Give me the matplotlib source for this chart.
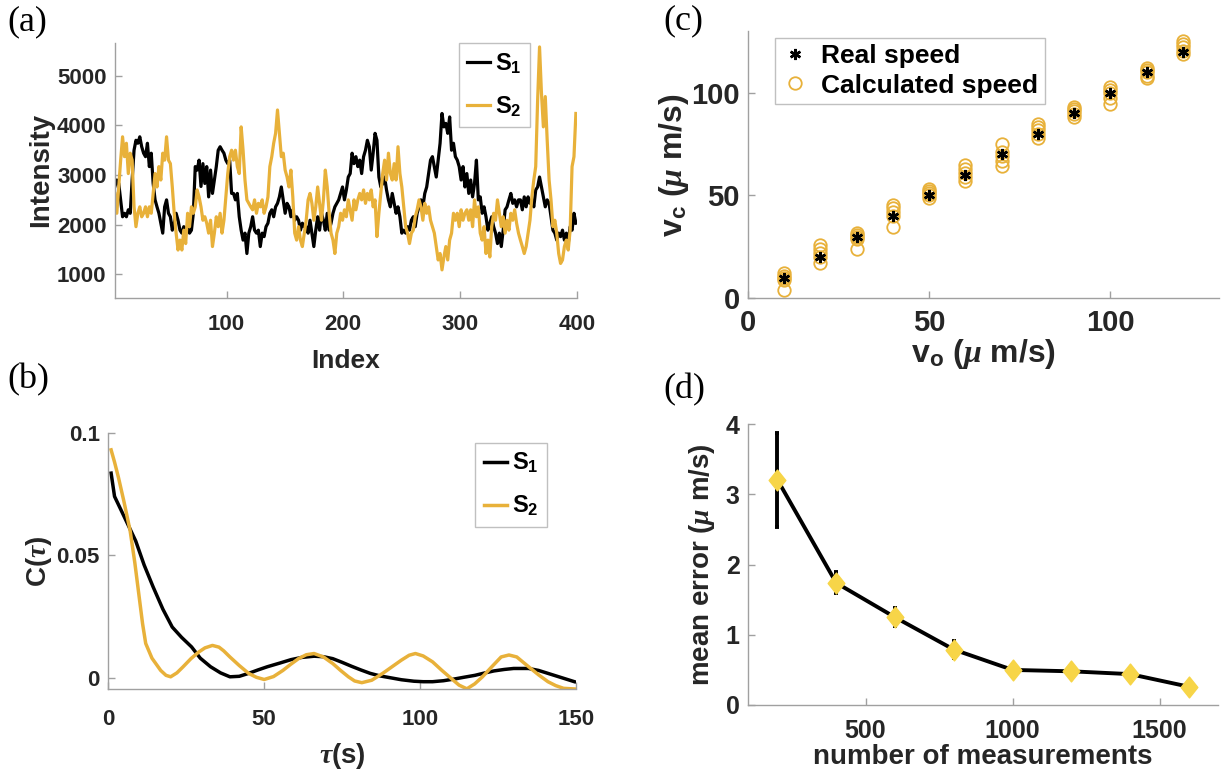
import numpy as np
import matplotlib.pyplot as plt
from matplotlib.path import Path

plt.rcParams['font.family'] = ['Liberation Sans', 'DejaVu Sans']
plt.rcParams['font.weight'] = 'bold'
plt.rcParams['axes.labelweight'] = 'bold'
plt.rcParams['mathtext.fontset'] = 'custom'
plt.rcParams['mathtext.rm'] = 'Liberation Sans:bold'
plt.rcParams['mathtext.bf'] = 'Liberation Sans:bold'
plt.rcParams['mathtext.it'] = 'Liberation Serif:italic'

GOLD = '#E8B13A'
YELLOW = '#F7D548'
GRAY = '#A0A0A0'
TXT = '#262626'

# (a) intensity traces
s1 = [2770, 2900, 2830, 2500, 2160, 2230, 2160, 2300, 2230, 2900, 3500, 3700, 3640, 3770, 3570, 3440,
      3370, 3640, 3170, 3440, 2830, 2500, 2360, 2230, 2030, 1830, 2360, 2500, 2230, 2160, 1890, 2030,
      2230, 2090, 1890, 1830, 1960, 1890, 1960, 1830, 1890, 2230, 3170, 3100, 3300, 2770, 3230, 2830,
      3170, 2560, 3100, 2630, 2900, 3170, 3500, 3570, 3500, 3440, 3300, 3230, 3300, 2630, 2630, 2500,
      2630, 2160, 1890, 1690, 1830, 1420, 1830, 1960, 2160, 1890, 1830, 1890, 1560, 1830, 1760, 1960,
      2030, 2230, 2300, 2160, 2360, 2430, 2560, 2760, 2500, 2230, 2430, 2360, 2160, 2300, 2090, 2160,
      2090, 1890, 2030, 1960, 1960, 1830, 2090, 1830, 1560, 1890, 2160, 1890, 2230, 2090, 1890, 2230,
      1890, 2030, 2230, 2360, 2430, 2500, 2630, 2760, 2500, 2700, 2960, 3030, 3440, 3230, 3370, 3170,
      3300, 3030, 3370, 3500, 3700, 3570, 3100, 3440, 3840, 3700, 2960, 2760, 2830, 2960, 2700, 2500,
      2360, 2630, 2430, 2230, 2360, 2160, 1830, 1890, 1830, 1960, 1890, 2090, 2160, 1960, 2230, 2360,
      2500, 2360, 2630, 2760, 3030, 3300, 3370, 3170, 2960, 3300, 3640, 4240, 3970, 4040, 3840, 4170,
      3500, 3640, 3370, 3300, 3170, 2900, 3170, 2760, 3030, 2630, 2900, 2560, 2830, 3300, 2500, 2560,
      2230, 2360, 2160, 1890, 2030, 2160, 1960, 1830, 1620, 1830, 1560, 1890, 2300, 2360, 2500, 2630,
      2430, 2500, 2360, 2500, 2500, 2300, 2560, 2360, 2560, 2430, 2500, 2360, 2700, 2760, 2960, 2760,
      2560, 2360, 2500, 2430, 2160, 1890, 1830, 1690, 1830, 1760, 1890, 1690, 1830, 1620, 1960, 1890,
      2230, 2030]
s2 = [2630, 2230, 2760, 3300, 3770, 3370, 3640, 3030, 3440, 3300, 2360, 1960, 2230, 2360, 2160, 2230,
      2360, 2160, 2360, 2230, 2630, 3030, 2760, 3170, 2900, 3440, 3300, 3770, 3300, 3230, 2760, 2230,
      1830, 1490, 1690, 1490, 1890, 1620, 2230, 1960, 2360, 2230, 2360, 2700, 2560, 2360, 2090, 2160,
      2030, 1830, 2090, 1560, 1830, 2160, 1960, 2230, 1830, 2090, 2560, 3030, 3370, 3500, 3300, 3500,
      3170, 3030, 3970, 3500, 2900, 2500, 2430, 2360, 2300, 2500, 2230, 2430, 2360, 2500, 2230, 2360,
      2560, 3170, 3370, 3640, 3840, 4310, 3840, 3370, 3440, 3100, 2960, 2760, 3100, 2560, 1830, 1690,
      1960, 1690, 1560, 1830, 2090, 2500, 2630, 2430, 2090, 2360, 2760, 2430, 2090, 2500, 3100, 2760,
      2230, 1830, 1690, 1420, 1830, 1960, 2230, 2090, 2300, 2160, 2500, 2300, 2090, 2500, 2300, 2500,
      2630, 2500, 2700, 2430, 2630, 2500, 2700, 2360, 2500, 1760, 2230, 2630, 3030, 3300, 2900, 3440,
      3030, 2900, 3230, 2900, 3570, 3030, 2760, 2360, 1960, 1830, 1620, 1830, 1890, 2160, 2300, 2500,
      2360, 2090, 2430, 2230, 2360, 2090, 1960, 1830, 1560, 1290, 1420, 1090, 1350, 1560, 1290, 1690,
      1830, 2230, 2090, 2230, 1960, 2300, 2090, 2230, 2300, 2090, 2300, 1960, 2500, 2160, 2360, 1830,
      1690, 1960, 1420, 1690, 1350, 1960, 2230, 2090, 2500, 2230, 1960, 2160, 1830, 2090, 1890, 2230,
      2090, 2300, 2030, 1830, 1690, 1560, 1420, 1560, 1830, 2090, 2560, 2900, 3170, 4510, 5580, 4650,
      3970, 4580, 3700, 2900, 2500, 1960, 2090, 1830, 1420, 1220, 1290, 1560, 1690, 1490, 1890, 3170,
      3370, 4240]
idx1 = np.linspace(4.3, 399.3, len(s1))
idx2 = np.linspace(4.3, 399.3, len(s2))

# (b) correlation functions
tau1 = [0.9, 2, 5, 8.8, 11.5, 14.4, 17.5, 20.5, 23.5, 26.7, 29.5, 32.8, 36, 39, 42, 45, 48, 51, 55,
        58.6, 62, 66, 69, 72, 75, 78, 81, 84, 87, 90.5, 94, 98, 101, 104, 107.5, 111, 114, 117.6,
        120.5, 123.7, 127, 130, 134.8, 138, 141, 145, 149.5]
c1 = [0.0835, 0.074, 0.066, 0.0558, 0.046, 0.037, 0.028, 0.0207, 0.0165, 0.0126, 0.008, 0.0045,
      0.002, 0.0004, 0.0006, 0.0018, 0.0032, 0.0045, 0.006, 0.0074, 0.0083, 0.0088, 0.0086, 0.0078,
      0.0063, 0.0047, 0.0032, 0.0018, 0.0008, 0.0, -0.0008, -0.0014, -0.0016, -0.0016, -0.0012,
      -0.0005, 0.0002, 0.001, 0.0019, 0.0028, 0.0034, 0.0038, 0.0038, 0.003, 0.0018, 0.0002, -0.0016]
tau2 = [0.9, 2, 3.3, 5, 7, 8.5, 9.5, 11, 12, 14, 16.8, 18.5, 20, 22, 24, 26.5, 29, 31, 33.4, 35.5,
        37, 39, 42, 45, 47.5, 50, 53, 56, 58.5, 61, 63.5, 66, 69, 72, 74.5, 77, 79, 81.3, 84.5, 88,
        91, 94, 96.5, 98.5, 101, 104, 107, 110, 112.5, 115, 117.5, 120, 123, 126, 128.5, 131, 134.8,
        138, 141, 143.5, 146, 150]
c2 = [0.093, 0.088, 0.0815, 0.072, 0.06, 0.047, 0.037, 0.022, 0.014, 0.008, 0.003, 0.001, 0.0004,
      0.002, 0.0045, 0.0078, 0.0105, 0.0122, 0.0132, 0.0125, 0.011, 0.0085, 0.005, 0.0018, 0.0002,
      -0.0007, 0.0005, 0.003, 0.0055, 0.0078, 0.0094, 0.0099, 0.0085, 0.0058, 0.003, 0.0004, -0.0013,
      -0.002, -0.001, 0.0018, 0.0045, 0.0072, 0.0092, 0.0099, 0.0089, 0.0065, 0.003, -0.0003, -0.003,
      -0.0045, -0.0025, 0.0004, 0.0045, 0.0085, 0.0093, 0.0085, 0.0045, 0.0012, -0.0016, -0.0032,
      -0.0043, -0.0046]

# (c) real vs calculated speeds
v_real = [10, 20, 30, 40, 50, 60, 70, 80, 90, 100, 110, 120]
v_calc = [[4, 9, 10, 11, 12.5], [17, 20, 22, 24, 26], [24, 29, 30, 31, 32], [34.5, 40, 42, 44, 45.5],
          [49, 50, 51, 52, 53], [57, 59, 61, 63, 65], [64.5, 67, 69, 71, 75], [78, 80, 82, 83.5, 85],
          [88, 89.5, 91, 92, 93], [94.5, 97.5, 100, 101.5, 103], [107, 108, 110, 111, 112],
          [119, 120.5, 122, 123.5, 125]]

# (d) mean error vs number of measurements
n_meas = [200, 400, 600, 800, 1000, 1200, 1400, 1600]
mean_err = [3.21, 1.74, 1.25, 0.79, 0.50, 0.48, 0.44, 0.26]
err_std = [0.67, 0.15, 0.13, 0.12, 0.08, 0.08, 0.07, 0.04]

W, H = 1224, 780
fig = plt.figure(figsize=(W / 100, H / 100), dpi=100)


def rect(l, r, t, b):
    return [l / W, 1 - b / H, (r - l) / W, (b - t) / H]


def style(ax, fs, xpad=6):
    for s in ['top', 'right']:
        ax.spines[s].set_visible(False)
    for s in ['left', 'bottom']:
        ax.spines[s].set_color(GRAY)
        ax.spines[s].set_linewidth(1.0)
    ax.tick_params(direction='in', length=5, width=1, color=GRAY, labelcolor=TXT, labelsize=fs, pad=6)
    ax.tick_params(axis='x', pad=xpad)
    for lab in ax.get_xticklabels() + ax.get_yticklabels():
        lab.set_fontweight('bold')


ax1 = fig.add_axes(rect(114.8, 576.7, 42.7, 297.7))
ax2 = fig.add_axes(rect(108.3, 576, 432.7, 689.3))
ax3 = fig.add_axes(rect(748, 1219, 31, 298.3))
ax4 = fig.add_axes(rect(748, 1218.4, 424.3, 705))

leg_kw = dict(bbox_transform=fig.transFigure, borderaxespad=0, fontsize=17, handlelength=1.0,
              handletextpad=0.2, labelspacing=0.8, borderpad=0.35, fancybox=False,
              edgecolor='#C0C0C0', framealpha=1, loc='upper left')

# (a)
ax1.plot(idx1, s1, color='k', lw=2.3, label='S$_1$')
ax1.plot(idx2, s2, color=GOLD, lw=2.3, label='S$_2$')
ax1.set_xlim(4.2, 400)
ax1.set_ylim(530, 5665)
ax1.set_xticks([100, 200, 300, 400])
ax1.set_yticks([1000, 2000, 3000, 4000, 5000])
style(ax1, 16, xpad=12)
ax1.set_xlabel('Index', fontsize=19, color=TXT, labelpad=10)
ax1.set_ylabel('Intensity', fontsize=20, color=TXT, labelpad=2)
ax1.legend(bbox_to_anchor=(458.5 / W, 1 - 43 / H), **leg_kw)

# (b)
ax2.plot(tau1, c1, color='k', lw=2.5, label='S$_1$')
ax2.plot(tau2, c2, color=GOLD, lw=2.5, label='S$_2$')
ax2.set_xlim(0, 150)
ax2.set_ylim(-0.0047, 0.1)
ax2.set_xticks([0, 50, 100, 150])
ax2.set_yticks([0, 0.05, 0.1])
ax2.set_yticklabels(['0', '0.05', '0.1'])
style(ax2, 16, xpad=14)
ax2.set_xlabel(r'$\tau$(s)', fontsize=20, color=TXT, labelpad=8)
ax2.set_ylabel(r'C($\tau$)', fontsize=20, color=TXT, labelpad=2)
ax2.legend(bbox_to_anchor=(475.3 / W, 1 - 442.7 / H), **leg_kw)

# (c)
for i, v in enumerate(v_real):
    ax3.plot([v] * len(v_calc[i]), v_calc[i], 'o', ms=9, mfc='none', mec=GOLD, mew=1.3,
             label='Calculated speed' if i == 0 else None)
ax3.plot(v_real, v_real, marker=(6, 2, 0), ls='none', color='k', ms=8, mew=1.8, label='Real speed')
ax3.set_xlim(0, 130)
ax3.set_ylim(0, 130)
ax3.set_xticks([0, 50, 100])
ax3.set_yticks([0, 50, 100])
style(ax3, 21, xpad=8)
ax3.set_xlabel(r'v$_\mathbf{o}$ ($\mu$ m/s)', fontsize=23, color=TXT, labelpad=0)
ax3.set_ylabel(r'v$_\mathbf{c}$ ($\mu$ m/s)', fontsize=23, color=TXT, labelpad=0)
h, l = ax3.get_legend_handles_labels()
ax3.legend(h[::-1], l[::-1], loc='upper left', bbox_to_anchor=(774.8 / W, 1 - 37.7 / H),
           bbox_transform=fig.transFigure, borderaxespad=0, fontsize=19, handlelength=1.0,
           handletextpad=0.5, labelspacing=0.2, borderpad=0.25, fancybox=False,
           edgecolor='#C0C0C0', framealpha=1)

# (d)
diamond = Path([(0, 1), (0.8, 0), (0, -1), (-0.8, 0), (0, 1)],
               [Path.MOVETO, Path.LINETO, Path.LINETO, Path.LINETO, Path.CLOSEPOLY])
ax4.errorbar(n_meas, mean_err, yerr=err_std, fmt='none', ecolor='k', elinewidth=2.8, capsize=1.5,
             capthick=2.8)
ax4.plot(n_meas, mean_err, color='k', lw=2.8, marker=diamond, ms=15, mfc=YELLOW, mec=YELLOW)
ax4.set_xlim(100, 1700)
ax4.set_ylim(0, 4)
ax4.set_xticks([500, 1000, 1500])
ax4.set_yticks([0, 1, 2, 3, 4])
style(ax4, 18, xpad=10)
ax4.set_xlabel('number of measurements', fontsize=20, color=TXT, labelpad=1)
ax4.set_ylabel(r'mean error ($\mu$ m/s)', fontsize=20, color=TXT, labelpad=6)

# panel letters
for txt, x, y in [('(a)', 7.7, 22), ('(b)', 7.7, 380), ('(c)', 663, 21), ('(d)', 663, 390)]:
    fig.text(x / W, 1 - y / H, txt, family='Liberation Serif', fontweight='normal', fontsize=26,
             ha='left', va='center', color='k')

fig.savefig('out.png', dpi=100)
